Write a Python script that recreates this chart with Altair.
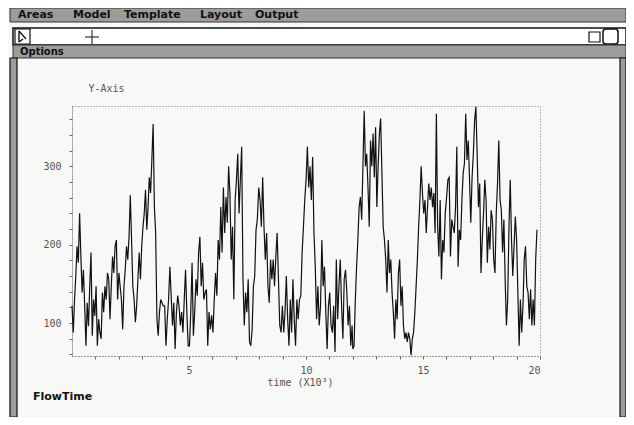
import altair as alt
import pandas as pd

# FlowTime values, in five consecutive stretches of time (x1000)
seg1_values = [122, 88, 130, 160, 198, 177, 240, 185, 139, 168, 122, 71, 126, 96, 147, 190, 84, 130,
               109, 147, 71, 105, 88, 80, 139, 114, 147, 130, 164, 156, 105, 147, 185, 164, 198, 206,
               130, 164, 147, 130, 92, 147, 168, 198, 181, 210, 263, 206, 147, 130, 101, 122, 156, 190,
               156, 198, 223, 240, 270, 219, 248, 286, 266, 308, 354, 248, 215, 105, 84, 114, 130, 126, 122]
seg2_values = [122, 71, 105, 130, 172, 135, 97, 126, 67, 114, 135, 122, 97, 114, 88, 130, 168, 114,
               71, 71, 114, 177, 84, 114, 156, 135, 190, 210, 147, 177, 130, 139, 143, 71, 114, 92,
               110, 88, 130, 164, 135, 206, 181, 248, 190, 273, 215, 261, 228, 300, 266, 181, 223, 130,
               257, 283, 316, 240, 283, 325, 156, 97, 139, 114, 156, 76, 71, 92, 147, 160, 219, 232]
seg3_values = [273, 257, 223, 286, 223, 181, 215, 147, 126, 181, 156, 181, 147, 185, 215, 156, 97, 88,
               122, 88, 114, 160, 105, 71, 130, 88, 156, 105, 71, 130, 105, 130, 135, 190, 223, 257,
               283, 325, 273, 300, 257, 312, 215, 172, 105, 147, 97, 122, 206, 147, 172, 114, 67, 122,
               139, 97, 88, 122, 63, 181, 105, 147, 181, 122, 80, 156, 168, 139, 97, 122, 71, 97]
seg4_values = [67, 71, 130, 172, 206, 248, 261, 232, 300, 371, 300, 316, 273, 223, 333, 300, 342, 286,
               350, 248, 300, 342, 361, 291, 223, 206, 181, 139, 206, 164, 181, 139, 114, 80, 130, 105,
               164, 181, 122, 147, 97, 80, 88, 76, 88, 80, 59, 80, 88, 114, 147, 181, 223, 257,
               300, 266, 240, 257, 215, 248, 278, 257, 273, 248, 266, 215, 367, 223, 185, 257, 156, 206,
               190, 240]
seg5_values = [261, 283, 286, 185, 232, 223, 215, 248, 325, 172, 219, 206, 257, 291, 304, 367, 308, 333,
               283, 228, 286, 316, 359, 376, 316, 248, 278, 164, 206, 240, 283, 257, 177, 223, 194, 244,
               232, 181, 164, 240, 278, 333, 257, 244, 190, 232, 156, 97, 130, 223, 283, 206, 160, 198,
               236, 206, 139, 71, 130, 88, 122, 181, 198, 147, 139, 105, 143, 97, 130, 97, 181, 219]
seg_bounds = [(0.0, 3.90), (3.96, 7.92), (7.98, 11.97), (12.0, 15.95), (16.01, 19.87)]

x_tick_values = list(range(1, 21))
y_tick_values = list(range(60, 361, 20))
menu_items = ["Areas", "Model", "Template", "Layout", "Output"]
menu_x = [-54, 1, 52, 128, 183]

rows = []
for (t0, t1), vals in zip(seg_bounds, [seg1_values, seg2_values, seg3_values, seg4_values, seg5_values]):
    n = len(vals)
    for i, v in enumerate(vals):
        rows.append({"t": t0 + (t1 - t0) * i / (n - 1), "v": v, "i": len(rows)})
df = pd.DataFrame(rows)

dummy = pd.DataFrame({"a": [0]})
HATCH = "#9c9c9a"
BG = "#f8f8f6"
MONO = "DejaVu Sans Mono"


def rect(x1, x2, y1, y2, fill, stroke=None, sw=1.0, r=0):
    kw = {"fill": fill}
    if stroke:
        kw.update(stroke=stroke, strokeWidth=sw)
    if r:
        kw["cornerRadius"] = r
    return alt.Chart(dummy).mark_rect(**kw).encode(
        x=alt.value(x1), x2=alt.value(x2), y=alt.value(y1), y2=alt.value(y2))


def rule(x1, x2, y1, y2, sw=1.0, color="#111"):
    return alt.Chart(dummy).mark_rule(color=color, strokeWidth=sw).encode(
        x=alt.value(x1), x2=alt.value(x2), y=alt.value(y1), y2=alt.value(y2))


def label(txt, x, y, size=11, weight="bold", font="DejaVu Sans", color="#111"):
    return alt.Chart(dummy).mark_text(text=txt, align="left", baseline="middle", fontSize=size,
                                      fontWeight=weight, font=font, color=color).encode(
        x=alt.value(x), y=alt.value(y))


chrome = [
    # menu bar
    rect(-62, 554, -98, -84, HATCH, "#333", 1),
    # tool row
    rect(-59, 554, -78, -61, "#ffffff", "#111", 1.5),
    rect(-57, -42, -77, -62, "#ffffff", "#111", 1.2),
    rule(-53, -53, -75, -64, 1.4),
    rule(-53, -46, -75, -67, 1.4),
    rule(-53, -49, -64, -67, 1.4),
    rule(13, 27, -69, -69, 1.0),
    rule(20, 20, -76, -62, 1.0),
    rect(517, 528, -74, -64, "#ffffff", "#111", 1.2),
    rect(531, 546, -77, -62, "#ffffff", "#111", 1.5, 3),
    # options bar
    rect(-59, 554, -61, -48, HATCH, "#333", 1),
    label("Options", -52, -54, 10),
    # side borders
    rect(-62, -55, -48, 311, HATCH, "#111", 1.2),
    rect(548, 554, -48, 311, HATCH, "#111", 1.2),
    # bottom label
    label("FlowTime", -39, 291, 11),
]
for name, mx in zip(menu_items, menu_x):
    chrome.append(label(name, mx, -91, 11))

line = alt.Chart(df).mark_line(color="#111", strokeWidth=1.2).encode(
    x=alt.X("t:Q", scale=alt.Scale(domain=[0, 20], nice=False, zero=False),
            axis=alt.Axis(values=x_tick_values, labelExpr="datum.value % 5 == 0 ? datum.label : ''",
                          title="time (X10³)", titleX=228, titleY=26, titleBaseline="middle",
                          titleAlign="center", labelPadding=6, tickSize=3)),
    y=alt.Y("v:Q", scale=alt.Scale(domain=[58, 377], nice=False, zero=False),
            axis=alt.Axis(values=y_tick_values, labelExpr="datum.value % 100 == 0 ? datum.label : ''",
                          title="Y-Axis", titleAngle=0, titleX=16, titleY=-18, titleAlign="left",
                          titleBaseline="middle", labelPadding=8, tickSize=3)),
    order="i:Q",
)

chart = alt.layer(*chrome, line).properties(
    width=468, height=250,
    autosize=alt.AutoSizeParams(type="none"),
    padding={"left": 64, "top": 98, "right": 86, "bottom": 61},
    background=BG,
).configure_view(
    stroke="#777", strokeDash=[1, 2], strokeWidth=1, fill=BG,
).configure_axis(
    labelFont=MONO, labelFontSize=10, labelColor="#555",
    titleFont=MONO, titleFontSize=10, titleColor="#555", titleFontWeight="normal",
    domainColor="#777", domainDash=[1, 2], tickColor="#666", grid=False,
)

chart.save("out.html", embed_options={"renderer": "svg", "actions": False})
